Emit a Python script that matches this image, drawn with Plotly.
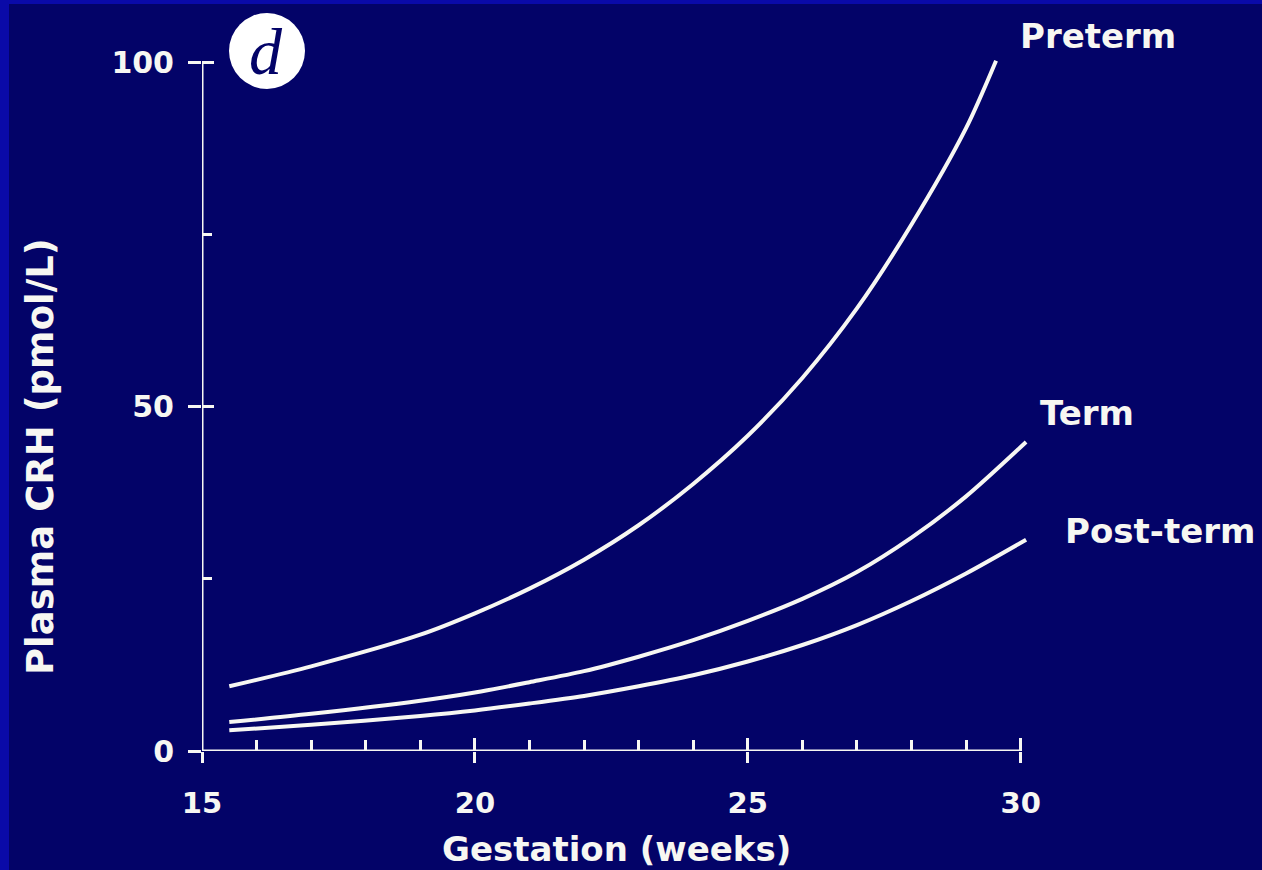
import plotly.graph_objects as go

# ---------------- data ----------------
WEEKS_PRETERM = [15.5, 17, 19, 20, 21, 22, 23, 24, 25, 26, 27, 28, 29, 29.55]
CRH_PRETERM = [9.4, 12.3, 16.9, 20.0, 23.6, 27.8, 32.8, 38.8, 45.8, 54.2, 64.3, 76.5, 90.5, 100.3]

WEEKS_TERM = [15.5, 17, 19, 20, 21, 22, 23, 24, 25, 26, 27, 28, 29, 30.1]
CRH_TERM = [4.2, 5.4, 7.3, 8.5, 10.0, 11.6, 13.7, 16.1, 18.9, 22.1, 26.0, 31.0, 37.0, 44.9]

WEEKS_POST = [15.5, 17, 19, 20, 21, 22, 23, 24, 25, 26, 27, 28, 29, 30.1]
CRH_POST = [3.0, 3.8, 5.1, 5.9, 6.9, 8.0, 9.4, 11.0, 13.0, 15.4, 18.3, 21.8, 25.8, 30.7]

SERIES_NAMES = ["Preterm", "Term", "Post-term"]
X_TICKS = [15, 20, 25, 30]
X_MINOR = [16, 17, 18, 19, 21, 22, 23, 24, 26, 27, 28, 29]
Y_TICKS = [0, 50, 100]
Y_MINOR = [25, 75]
X_TITLE = "Gestation (weeks)"
Y_TITLE = "Plasma CRH (pmol/L)"
PANEL = "d"

# ---------------- style ----------------
W, H = 1262, 870
ML, MR, MT, MB = 202, 225, 49, 119
PW, PH = W - ML - MR, H - MT - MB
BG = "#030368"
EDGE = "#0a0aa8"
FG = "#f7f7f2"
FONT = "DejaVu Sans"


def px(x):
    return (x - ML) / PW


def py(y):
    return (H - MB - y) / PH


fig = go.Figure()
for xs, ys, name in zip([WEEKS_PRETERM, WEEKS_TERM, WEEKS_POST],
                        [CRH_PRETERM, CRH_TERM, CRH_POST], SERIES_NAMES):
    fig.add_trace(go.Scatter(x=xs, y=ys, mode="lines", name=name,
                             line=dict(color=FG, width=4, shape="spline", smoothing=0.8),
                             showlegend=False, hoverinfo="skip"))
# dummy trace to activate overlay axes (inside half of major ticks)
fig.add_trace(go.Scatter(x=[None], y=[None], xaxis="x2", yaxis="y2",
                         showlegend=False, hoverinfo="skip"))

tickfont = dict(family=FONT, size=29, color=FG, weight="bold")
fig.update_layout(
    width=W, height=H, template="none",
    margin=dict(l=ML, r=MR, t=MT, b=MB, pad=0),
    paper_bgcolor=BG, plot_bgcolor=BG,
    xaxis=dict(range=[15, 30.3], tickmode="array", tickvals=X_TICKS,
               ticktext=[str(v) for v in X_TICKS],
               ticks="outside", ticklen=11, tickwidth=3, tickcolor=FG,
               tickfont=tickfont, ticklabelstandoff=15,
               showgrid=False, zeroline=False, showline=False,
               minor=dict(tickmode="array", tickvals=X_MINOR, ticks="inside",
                          ticklen=11, tickwidth=2.5, tickcolor=FG, showgrid=False)),
    yaxis=dict(range=[0, 102], tickmode="array", tickvals=Y_TICKS,
               ticktext=[str(v) for v in Y_TICKS],
               ticks="outside", ticklen=13, tickwidth=3, tickcolor=FG,
               tickfont=dict(tickfont, size=30), ticklabelstandoff=8,
               showgrid=False, zeroline=False, showline=False,
               minor=dict(tickmode="array", tickvals=Y_MINOR, ticks="inside",
                          ticklen=10, tickwidth=2.5, tickcolor=FG, showgrid=False)),
    xaxis2=dict(overlaying="x", anchor="y2", side="bottom", range=[15, 30.3],
                tickmode="array", tickvals=X_TICKS, ticks="inside", ticklen=13,
                tickwidth=3, tickcolor=FG, showticklabels=False,
                showgrid=False, zeroline=False, showline=False),
    yaxis2=dict(overlaying="y", anchor="x2", side="left", range=[0, 102],
                tickmode="array", tickvals=Y_TICKS, ticks="inside", ticklen=12,
                tickwidth=3, tickcolor=FG, showticklabels=False,
                showgrid=False, zeroline=False, showline=False),
)

shapes = [
    # slide frame: brighter blue strips on left and top
    dict(type="rect", xref="paper", yref="paper", x0=px(0), x1=px(9), y0=py(H), y1=py(0),
         fillcolor=EDGE, line=dict(width=0), layer="below"),
    dict(type="rect", xref="paper", yref="paper", x0=px(0), x1=px(W), y0=py(4), y1=py(0),
         fillcolor=EDGE, line=dict(width=0), layer="below"),
    # axis lines spanning the tick range
    dict(type="line", xref="x", yref="y", x0=X_TICKS[0], x1=X_TICKS[-1], y0=Y_TICKS[0], y1=Y_TICKS[0],
         line=dict(color=FG, width=3)),
    dict(type="line", xref="x", yref="y", x0=X_TICKS[0], x1=X_TICKS[0], y0=Y_TICKS[0], y1=Y_TICKS[-1],
         line=dict(color=FG, width=3)),
    # panel badge
    dict(type="circle", xref="paper", yref="paper", x0=px(229), x1=px(305), y0=py(89), y1=py(13),
         fillcolor="#ffffff", line=dict(width=0)),
]
fig.update_layout(shapes=shapes)

lab = dict(family=FONT, size=34, color=FG, weight="bold")
annotations = [
    dict(text=SERIES_NAMES[0], x=px(1018), y=py(36), xanchor="left", yanchor="middle"),
    dict(text=SERIES_NAMES[1], x=px(1038), y=py(413), xanchor="left", yanchor="middle"),
    dict(text=SERIES_NAMES[2], x=px(1063), y=py(531), xanchor="left", yanchor="middle"),
    dict(text=X_TITLE, x=px(616), y=py(849), xanchor="center", yanchor="middle"),
]
annotations = [dict(a, xref="paper", yref="paper", showarrow=False, font=lab) for a in annotations]
annotations.append(dict(text=Y_TITLE, x=px(41), y=py(457), xref="paper", yref="paper",
                        xanchor="center", yanchor="middle", textangle=-90, showarrow=False,
                        font=dict(family=FONT, size=37, color=FG, weight="bold")))
annotations.append(dict(text="<i>" + PANEL + "</i>", x=px(266), y=py(52), xref="paper", yref="paper",
                        xanchor="center", yanchor="middle", showarrow=False,
                        font=dict(family="Liberation Serif", size=66, color=BG)))
fig.update_layout(annotations=annotations)

fig.write_html("out.html")
